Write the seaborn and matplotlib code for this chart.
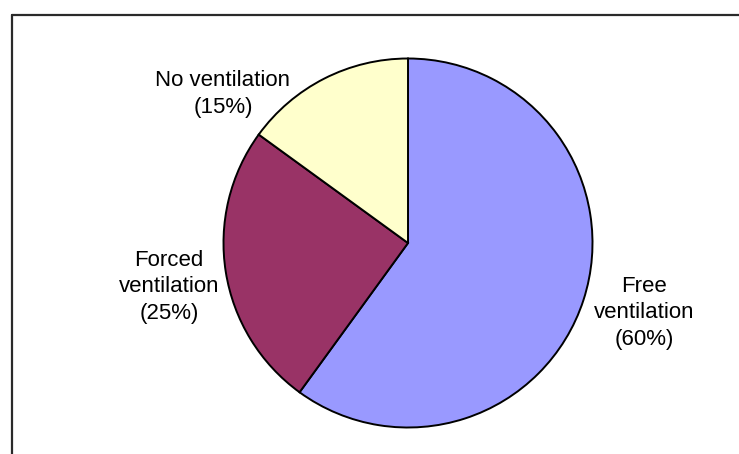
import matplotlib
matplotlib.use("Agg")
import matplotlib.pyplot as plt
from matplotlib.lines import Line2D
import seaborn as sns

# Share of ventilation types
categories = ["Free\nventilation", "Forced\nventilation", "No ventilation"]
shares = [60, 25, 15]
colors = ["#9999FF", "#993366", "#FFFFCC"]

sns.set_theme(style="white")
plt.rcParams["font.family"] = ["Liberation Sans", "DejaVu Sans"]

W, H, DPI = 739, 454, 100
fig = plt.figure(figsize=(W / DPI, H / DPI), dpi=DPI)
ax = fig.add_axes([0, 0, 1, 1])
ax.set_axis_off()

wedges, _ = ax.pie(
    shares,
    colors=colors,
    startangle=90,
    counterclock=False,
    radius=1.0,
    wedgeprops=dict(edgecolor="black", linewidth=1.4),
)

# Scale: pie radius of ~184.5 px, centre at (408, 243) px from the top-left
r_px = 184.5
cx, cy = 408, 243
ax.set_xlim(-cx / r_px, (W - cx) / r_px)
ax.set_ylim(-(H - cy) / r_px, cy / r_px)
ax.set_aspect("auto")

label_pos = [(1.279, -0.379), (-1.295, -0.238), (-1.003, 0.808)]
for name, val, (x, y) in zip(categories, shares, label_pos):
    ax.text(x, y, f"{name}\n({val}%)", ha="center", va="center",
            fontsize=16, color="black", linespacing=1.36)

# Chart area frame (left and top edges visible)
fx = 11.5 / W
fy = 1 - 15.0 / H
fig.add_artist(Line2D([fx, fx], [0, fy], transform=fig.transFigure,
                      color="#2a2a2a", linewidth=1.6))
fig.add_artist(Line2D([fx, 1], [fy, fy], transform=fig.transFigure,
                      color="#2a2a2a", linewidth=1.6))

fig.savefig("out.png", dpi=DPI, facecolor="white")
